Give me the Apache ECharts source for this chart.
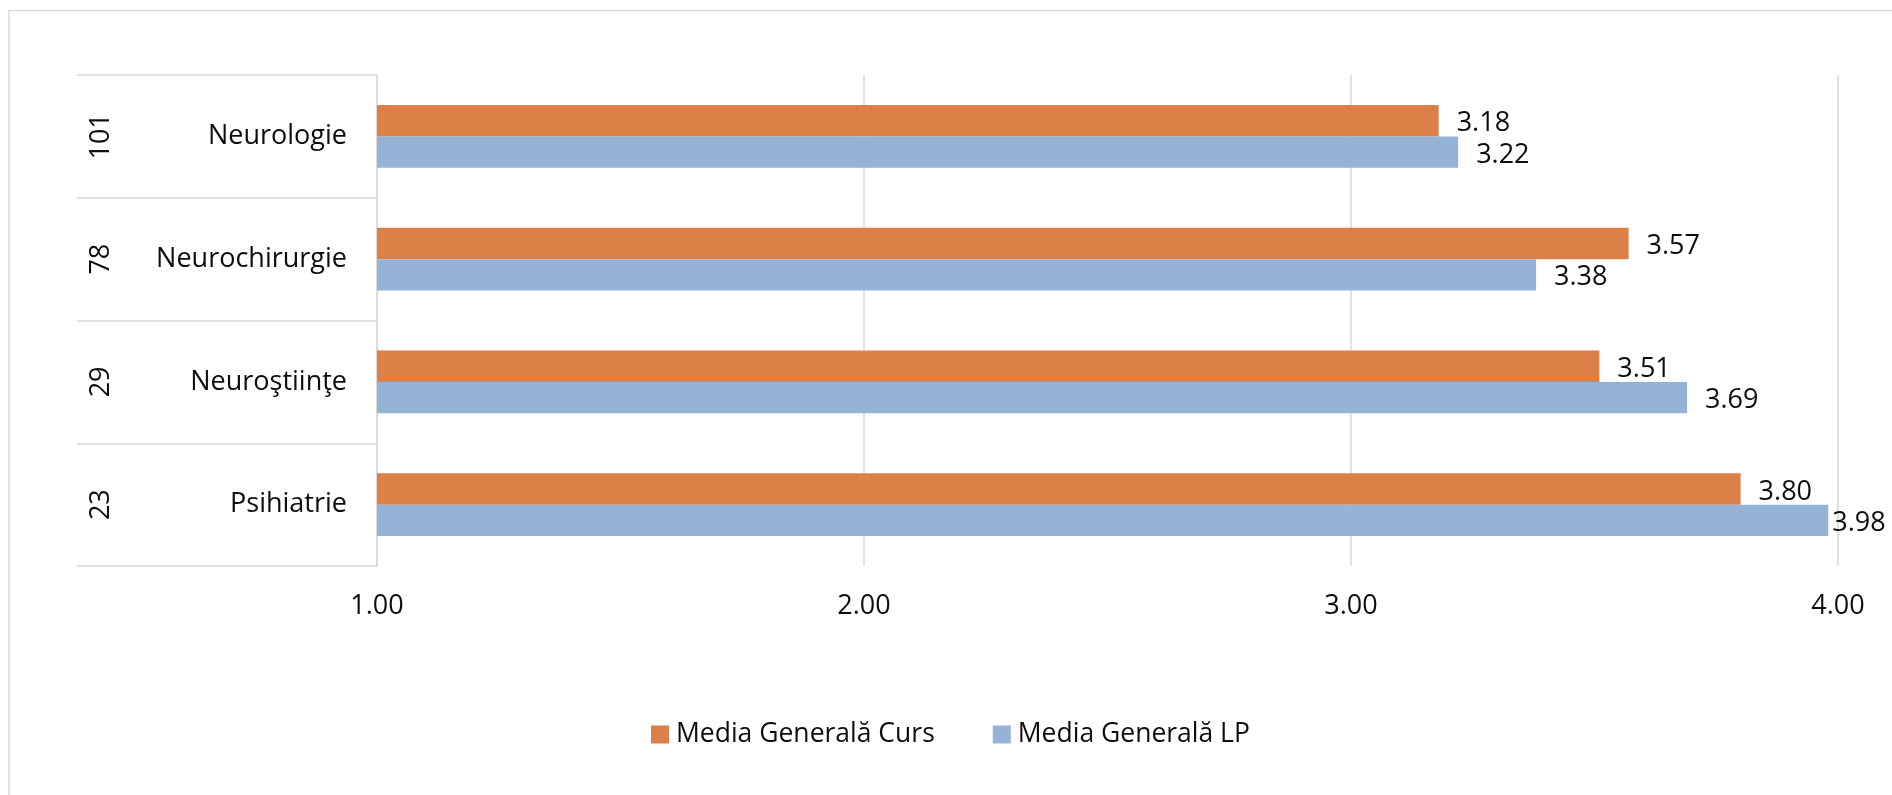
<!DOCTYPE html>
<html>
<head>
<meta charset="utf-8">
<title>Media Generală pe specialități</title>
<script src="https://cdn.jsdelivr.net/npm/echarts@6/dist/echarts.min.js"></script>
<style>
  html, body { margin: 0; padding: 0; background: #ffffff; }
  #chart { width: 1892px; height: 795px; }
</style>
</head>
<body>
<div id="chart"></div>
<script>
// Specialties (top to bottom) and number of respondents per specialty
const categories = ['Neurologie', 'Neurochirurgie', 'Neuroştiinţe', 'Psihiatrie'];
const groupCounts = ['101', '78', '29', '23'];

// Average scores per specialty
const seriesNames = ['Media Generală Curs', 'Media Generală LP'];
const cursValues = [3.18, 3.57, 3.51, 3.80];
const lpValues = [3.22, 3.38, 3.69, 3.98];

// Value axis range and ticks
const axisMin = 1;
const axisMax = 4;
const axisStep = 1;

const FONT = '"Open Sans", "Noto Sans", sans-serif';
const TEXT = '#0d0d0d';
const LINE = '#d9d9d9';
const ORANGE = '#DD8047';
const BLUE = '#95B3D7';

const chart = echarts.init(document.getElementById('chart'), null, { renderer: 'canvas' });

const valueLabel = {
  show: true,
  position: 'right',
  distance: 18,
  offset: [0, 3],
  fontFamily: FONT,
  fontSize: 27,
  color: TEXT,
  formatter: p => Number(p.value).toFixed(2)
};

// the longest bar sits against the plot edge, so its label is tucked closer
const lpData = lpValues.map(v => v >= axisMax - 0.05 ? { value: v, label: { distance: 4 } } : v);

chart.setOption({
  animation: false,
  backgroundColor: '#ffffff',
  textStyle: { fontFamily: FONT },
  graphic: [{
    type: 'rect',
    shape: { x: 9, y: 10.5, width: 2400, height: 1200 },
    style: { fill: 'none', stroke: LINE, lineWidth: 1.5 },
    silent: true,
    z: -10
  }],
  grid: { left: 377, right: 54, top: 75, bottom: 229, containLabel: false },
  legend: {
    left: 646,
    top: 716,
    itemWidth: 18,
    itemHeight: 18,
    itemGap: 58,
    icon: 'rect',
    textStyle: { fontFamily: FONT, fontSize: 26.5, color: TEXT, padding: [0, 0, 0, 2] },
    data: seriesNames
  },
  xAxis: {
    type: 'value',
    min: axisMin,
    max: axisMax,
    interval: axisStep,
    axisLine: { show: false },
    axisTick: { show: false },
    splitLine: { show: true, lineStyle: { color: LINE, width: 1.5 } },
    axisLabel: {
      fontFamily: FONT,
      fontSize: 27,
      color: TEXT,
      margin: 27,
      formatter: v => v.toFixed(2)
    }
  },
  yAxis: [{
    type: 'category',
    inverse: true,
    data: categories,
    axisLine: { show: true, lineStyle: { color: LINE, width: 1.5 } },
    axisTick: { show: true, length: 300, lineStyle: { color: LINE, width: 1.5 } },
    axisLabel: { fontFamily: FONT, fontSize: 27, color: TEXT, margin: 30, padding: [5, 0, 0, 0] }
  }, {
    type: 'category',
    inverse: true,
    position: 'left',
    offset: 262,
    data: groupCounts,
    axisLine: { show: false },
    axisTick: { show: false },
    axisLabel: { fontFamily: FONT, fontSize: 27, color: TEXT, margin: 0, rotate: 90 }
  }],
  series: [{
    name: seriesNames[0],
    type: 'bar',
    yAxisIndex: 0,
    data: cursValues,
    barGap: '0%',
    barCategoryGap: '49%',
    itemStyle: { color: ORANGE },
    label: valueLabel
  }, {
    name: seriesNames[1],
    type: 'bar',
    yAxisIndex: 0,
    data: lpData,
    barGap: '0%',
    barCategoryGap: '49%',
    itemStyle: { color: BLUE },
    label: valueLabel
  }]
});
</script>
</body>
</html>
